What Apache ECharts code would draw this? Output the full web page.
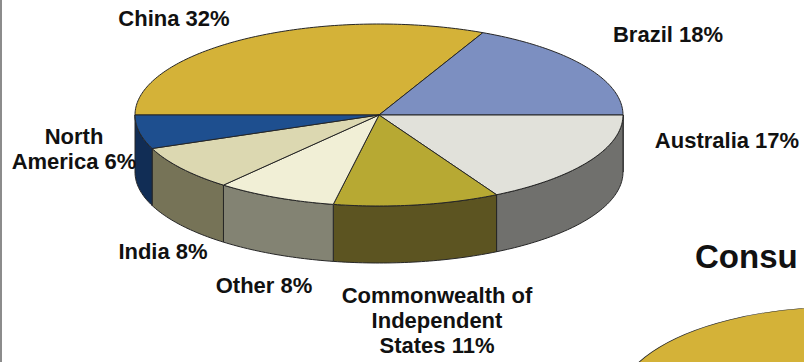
<!DOCTYPE html>
<html>
<head>
<meta charset="utf-8">
<script src="https://cdn.jsdelivr.net/npm/echarts@6/dist/echarts.min.js"></script>
<style>
  html, body { margin: 0; padding: 0; background: #ffffff; }
  #chart { width: 804px; height: 362px; }
</style>
</head>
<body>
<div id="chart"></div>
<script>
// Production share by region (percent)
const categories = ['China', 'Brazil', 'Australia', 'Commonwealth of Independent States', 'Other', 'India', 'North America'];
const shares = [32, 18, 17, 11, 8, 8, 6];
// How each region name wraps in its label
const labelNames = ['China', 'Brazil', 'Australia', 'Commonwealth of\nIndependent\nStates', 'Other', 'India', 'North\nAmerica'];

// Styling: top face and side wall colours per slice
const topColors  = ['#d4b238', '#7c8fc1', '#e1e1da', '#b7a933', '#f1efd6', '#dcd8b1', '#1e4f8f'];
const wallColors = ['#8a7420', '#4a5a86', '#70706d', '#5c5421', '#838373', '#767357', '#112d55'];
// Label centres (layout only)
const labelPos = [[174, 18], [668, 34], [727, 140], [437, 320], [264, 285], [163, 251], [74, 149]];

// 3D pie geometry
const geo = { cx: 379, cy: 115, rx: 244, ry: 91, depth: 57, start: Math.PI };

const total = shares.reduce((s, v) => s + v, 0);
const startAngles = [];
(function () {
  let acc = 0;
  shares.forEach(v => { startAngles.push(geo.start - acc / total * 2 * Math.PI); acc += v; });
})();

function ellPt(a, drop) {
  return [geo.cx + geo.rx * Math.cos(a), geo.cy - geo.ry * Math.sin(a) + (drop || 0)];
}
function arcPts(a0, a1, drop) {
  const n = Math.max(2, Math.ceil(Math.abs(a1 - a0) / (Math.PI / 180)));
  const pts = [];
  for (let i = 0; i <= n; i++) pts.push(ellPt(a0 + (a1 - a0) * i / n, drop));
  return pts;
}

function renderSlice(params, api) {
  const idx = params.dataIndex;
  const value = api.value(1);
  const a0 = startAngles[idx];
  const a1 = a0 - value / total * 2 * Math.PI;
  const children = [];
  const edge = { stroke: '#262626', lineWidth: 1, lineJoin: 'round' };

  // front wall: only the part of the rim facing the viewer
  const hi = Math.min(a0, 0), lo = Math.max(a1, -Math.PI);
  if (hi > lo) {
    const pts = arcPts(hi, lo, 0).concat(arcPts(lo, hi, geo.depth));
    children.push({
      type: 'polygon',
      shape: { points: pts },
      style: Object.assign({ fill: wallColors[idx] }, edge)
    });
  }
  // top face
  const topPts = [[geo.cx, geo.cy]].concat(arcPts(a0, a1, 0));
  children.push({
    type: 'polygon',
    shape: { points: topPts },
    style: Object.assign({ fill: topColors[idx] }, edge)
  });
  // label
  children.push({
    type: 'text',
    style: {
      text: labelNames[idx] + ' ' + value + '%',
      x: labelPos[idx][0],
      y: labelPos[idx][1],
      align: 'center',
      verticalAlign: 'middle',
      font: 'bold 22px "Liberation Sans", Arial, sans-serif',
      lineHeight: 25,
      fill: '#111111'
    },
    z2: 10
  });
  return { type: 'group', children: children };
}

const chart = echarts.init(document.getElementById('chart'), null, { renderer: 'svg' });
chart.setOption({
  backgroundColor: '#ffffff',
  animation: false,
  graphic: [
    { type: 'rect', shape: { x: 0, y: 0, width: 2, height: 362 }, style: { fill: '#8c8c8c' } },
    {
      type: 'circle', x: 840, y: 403, scaleY: 96 / 222,
      shape: { cx: 0, cy: 0, r: 222 },
      style: { fill: '#d4b238', stroke: '#262626', lineWidth: 1.2, strokeNoScale: true }
    },
    {
      type: 'text', x: 695, y: 256,
      style: { text: 'Consu', font: 'bold 33px "Liberation Sans", Arial, sans-serif', fill: '#111111', verticalAlign: 'middle' }
    }
  ],
  series: [{
    type: 'custom',
    coordinateSystem: 'none',
    renderItem: renderSlice,
    data: categories.map((c, i) => [c, shares[i]])
  }]
});
</script>
</body>
</html>
